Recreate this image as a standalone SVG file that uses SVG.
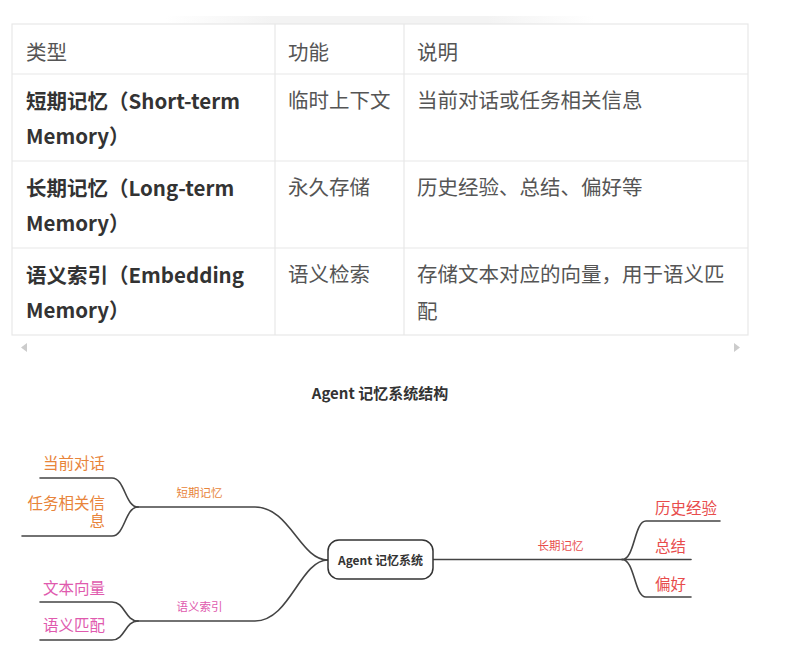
<svg xmlns="http://www.w3.org/2000/svg" width="803" height="647" viewBox="0 0 803 647">
<defs>
<style>
.t{font-family:"Noto Sans CJK SC","Liberation Sans",sans-serif;}
.cell{font-size:20.5px;fill:#555;}
.bold{font-weight:700;fill:#333;}
.grid{stroke:#e8e8e8;stroke-width:1.2;fill:none;}
.ln{stroke:#444;stroke-width:1.6;fill:none;stroke-linecap:round;}
.or{fill:#e8843a;}
.pk{fill:#e05aae;}
.rd{fill:#e84c4c;}
.leaf{font-size:15.5px;}
.lab{font-size:11.5px;}
</style>
<linearGradient id="sh" x1="0" y1="0" x2="1" y2="0">
<stop offset="0" stop-color="#f3f3f3" stop-opacity="0"/>
<stop offset="0.25" stop-color="#f3f3f3" stop-opacity="1"/>
<stop offset="0.75" stop-color="#f3f3f3" stop-opacity="1"/>
<stop offset="1" stop-color="#f3f3f3" stop-opacity="0"/>
</linearGradient>
</defs>
<rect width="803" height="647" fill="#fff"/>
<rect x="165" y="16" width="430" height="8" fill="url(#sh)"/>
<g id="table">
<rect class="grid" x="12" y="24" width="736" height="311"/>
<line class="grid" x1="12" y1="74" x2="748" y2="74"/>
<line class="grid" x1="12" y1="161" x2="748" y2="161"/>
<line class="grid" x1="12" y1="248" x2="748" y2="248"/>
<line class="grid" x1="275" y1="24" x2="275" y2="335"/>
<line class="grid" x1="404" y1="24" x2="404" y2="335"/>
<g class="t cell">
<text x="26" y="59.5">类型</text>
<text x="288" y="59.5">功能</text>
<text x="417" y="59.5">说明</text>
<text class="bold" x="26" y="109">短期记忆（Short-term</text>
<text class="bold" x="26" y="144">Memory）</text>
<text x="288" y="108">临时上下文</text>
<text x="417" y="108">当前对话或任务相关信息</text>
<text class="bold" x="26" y="195.5">长期记忆（Long-term</text>
<text class="bold" x="26" y="230.5">Memory）</text>
<text x="288" y="195">永久存储</text>
<text x="417" y="195">历史经验、总结、偏好等</text>
<text class="bold" x="26" y="282.5">语义索引（Embedding</text>
<text class="bold" x="26" y="317.5">Memory）</text>
<text x="288" y="282">语义检索</text>
<text x="417" y="282">存储文本对应的向量，用于语义匹</text>
<text x="417" y="319">配</text>
</g>
<polygon points="27,343 27,352 21,347.5" fill="#ccc"/>
<polygon points="734,343 734,352 740,347.5" fill="#ccc"/>
</g>
<text id="title" class="t" x="380" y="398.5" text-anchor="middle" font-size="15" font-weight="700" fill="#333">Agent 记忆系统结构</text>
<g id="connectors">
<path class="ln" d="M328,560 C300,560 290,507 255,507 L138,507"/>
<path class="ln" d="M138,507 C125,507 125,478 112,478 L40,478"/>
<path class="ln" d="M138,507 C125,507 125,536 112,536 L22,536"/>
<path class="ln" d="M328,560 C300,560 290,621 255,621 L138,621"/>
<path class="ln" d="M138,621 C125,621 125,602 112,602 L40,602"/>
<path class="ln" d="M138,621 C125,621 125,640 112,640 L40,640"/>
<path class="ln" d="M433,559.5 L622,559.5"/>
<path class="ln" d="M622,559.5 C635,559.5 634,521 646,521 L720,521"/>
<path class="ln" d="M622,559.5 L691,559.5"/>
<path class="ln" d="M622,559.5 C635,559.5 634,597 646,597 L691,597"/>
</g>
<g id="root">
<rect x="328" y="540" width="105" height="39" rx="11" fill="#fff" stroke="#333" stroke-width="1.5"/>
<text class="t" x="380.5" y="564.5" text-anchor="middle" font-size="12" font-weight="700" fill="#333">Agent 记忆系统</text>
</g>
<g id="short" class="t">
<text class="lab or" x="199.5" y="496.5" text-anchor="middle">短期记忆</text>
</g>
<g id="s1" class="t"><text class="leaf or" x="105" y="468.5" text-anchor="end">当前对话</text></g>
<g id="s2" class="t">
<text class="leaf or" text-anchor="end"><tspan x="105" y="508.5">任务相关信</tspan><tspan x="105" y="526.5">息</tspan></text>
</g>
<g id="embed" class="t">
<text class="lab pk" x="199.5" y="611" text-anchor="middle">语义索引</text>
</g>
<g id="e1" class="t"><text class="leaf pk" x="105" y="593.5" text-anchor="end">文本向量</text></g>
<g id="e2" class="t"><text class="leaf pk" x="105" y="630.5" text-anchor="end">语义匹配</text></g>
<g id="long" class="t">
<text class="lab rd" x="560.5" y="549.5" text-anchor="middle">长期记忆</text>
</g>
<g id="l1" class="t"><text class="leaf rd" x="655" y="513.5">历史经验</text></g>
<g id="l2" class="t"><text class="leaf rd" x="655" y="551.5">总结</text></g>
<g id="l3" class="t"><text class="leaf rd" x="655" y="589.5">偏好</text></g>
</svg>
